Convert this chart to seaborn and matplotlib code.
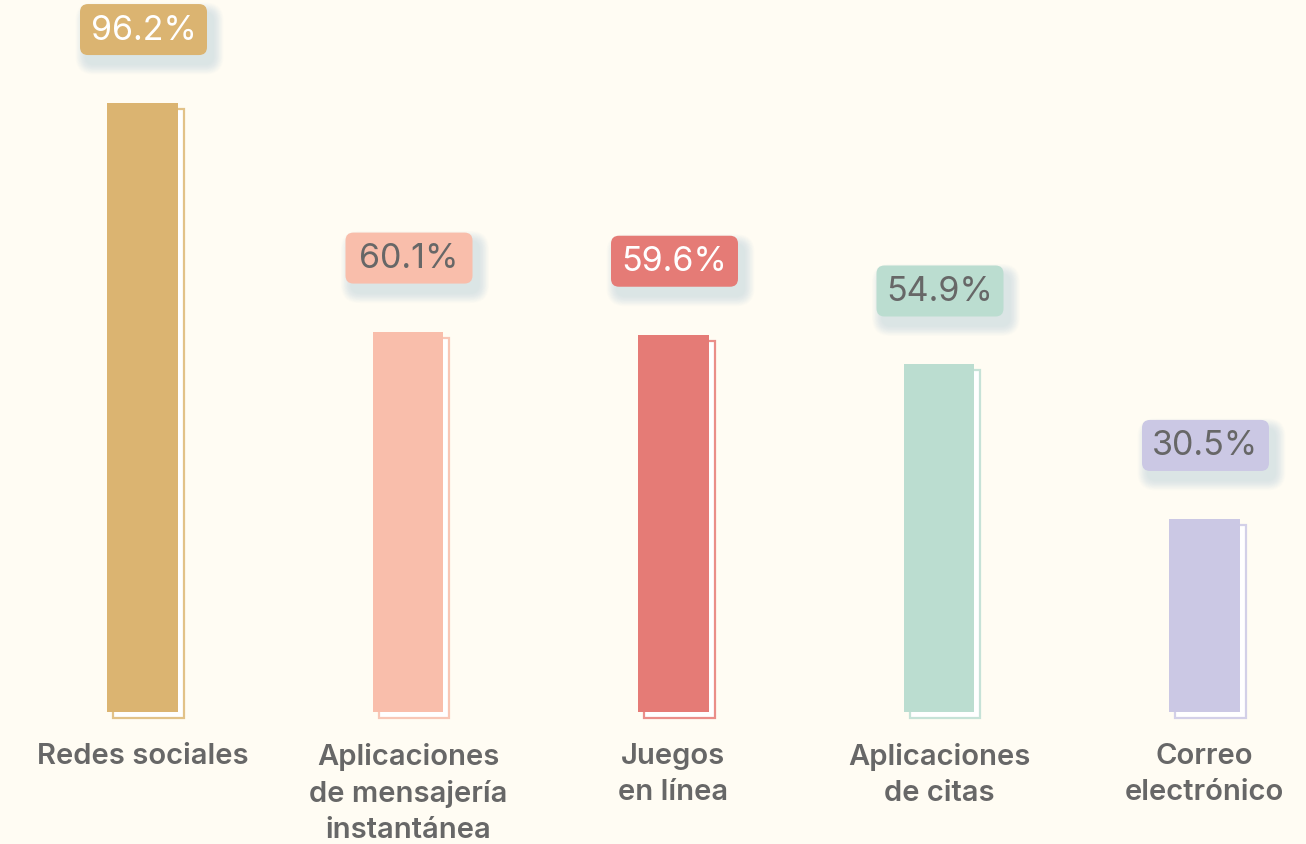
import matplotlib
matplotlib.use("Agg")
import matplotlib.pyplot as plt
from matplotlib.patches import FancyBboxPatch, Rectangle
from matplotlib.transforms import IdentityTransform, ScaledTranslation
import seaborn as sns

categories = ["Redes sociales",
              "Aplicaciones\nde mensajería\ninstantánea",
              "Juegos\nen línea",
              "Aplicaciones\nde citas",
              "Correo\nelectrónico"]
values = [96.2, 60.1, 59.6, 54.9, 30.5]
bar_colors = ["#DBB471", "#F9BEAB", "#E57B76", "#BBDDD0", "#CBC8E4"]
edge_colors = ["#E2C288", "#F8C7B6", "#EA8E89", "#C6E2D7", "#D3D0E8"]
value_text_colors = ["#FFFFFF", "#676767", "#FFFFFF", "#676767", "#676767"]

BG = "#FFFCF3"
W, H, DPI = 1306, 845, 100

sns.set_theme(style="white")
plt.rcParams["font.family"] = ["Inter", "DejaVu Sans"]

fig = plt.figure(figsize=(W / DPI, H / DPI), dpi=DPI, facecolor=BG)
ax = fig.add_axes([0, 0, 1, 1])
ax.set_facecolor(BG)

sns.barplot(x=list(range(len(values))), y=values, hue=list(range(len(values))),
            palette=bar_colors, width=0.267, legend=False, ax=ax,
            saturation=1, zorder=3, linewidth=0)

# horizontal: 265.5 px per category, first centre at 142.5 px
x_scale = 265.5
ax.set_xlim(-142.5 / x_scale, (W - 142.5) / x_scale)
# vertical: baseline 713 px from top, 6.33 px per percentage point
y_scale = 6.33
base = H - 713
ax.set_ylim(-base / y_scale, (H - base) / y_scale)
ax.axis("off")

fig.canvas.draw()
to_px = ax.transData

# offset outline behind each bar
for i, bar in enumerate(ax.patches):
    off = ScaledTranslation(6 / DPI, -6 / DPI, fig.dpi_scale_trans)
    rect = Rectangle((bar.get_x(), bar.get_y()), bar.get_width(), bar.get_height(),
                     transform=ax.transData + off, facecolor="#FFFFFF",
                     edgecolor=edge_colors[i], linewidth=1.6, zorder=2)
    ax.add_patch(rect)

# value labels in rounded boxes with a soft bluish shadow
bw, bh, gap = 127, 51, 48
for i, v in enumerate(values):
    cx, top = to_px.transform((i, v))
    cx += 1
    x0 = cx - bw / 2
    y0 = top + gap
    for j in range(14, 0, -1):
        sh = FancyBboxPatch((x0 + 6 - j * 0.75, y0 - 9 - j * 0.75),
                            bw + j * 1.5, bh + j * 1.5,
                            boxstyle=f"round,pad=0,rounding_size={8 + j * 0.75}",
                            transform=IdentityTransform(), facecolor="#A9CCD8",
                            edgecolor="none", alpha=0.032, zorder=4)
        fig.add_artist(sh)
    box = FancyBboxPatch((x0, y0), bw, bh,
                         boxstyle="round,pad=0,rounding_size=8",
                         transform=IdentityTransform(), facecolor=bar_colors[i],
                         edgecolor="none", zorder=5)
    fig.add_artist(box)
    fig.text(cx / W, (y0 + bh / 2) / H, f"{v}%", ha="center", va="center",
             fontsize=24.5, color=value_text_colors[i], zorder=6)

# category labels under the bars
for i, name in enumerate(categories):
    ax.annotate(name, (i, 0), xytext=(0, -30), textcoords="offset pixels",
                ha="center", va="top", fontsize=21, fontweight="semibold",
                color="#676767", linespacing=1.43)

fig.savefig("out.png", dpi=DPI, facecolor=BG)
